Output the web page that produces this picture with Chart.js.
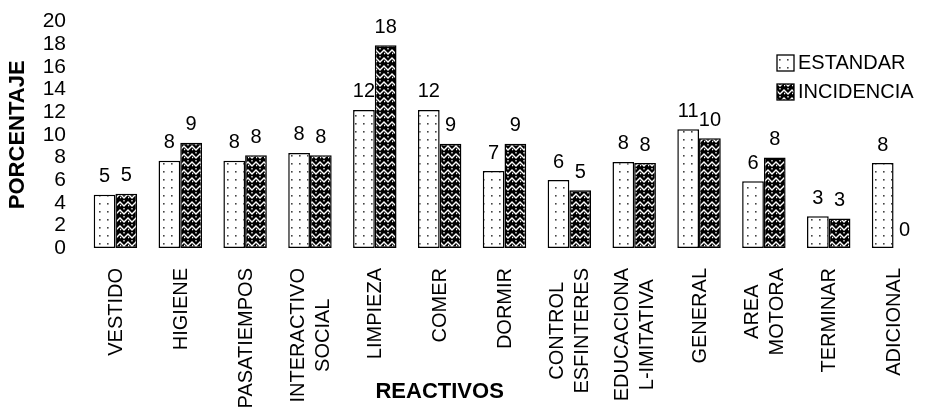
<!DOCTYPE html>
<html><head><meta charset="utf-8">
<script src="https://cdn.jsdelivr.net/npm/chart.js@4.4.1/dist/chart.umd.min.js"></script>
<style>html,body{margin:0;padding:0;background:#fff}</style>
</head><body>
<canvas id="c" width="926" height="409" style="display:block;width:926px;height:409px"></canvas>
<script>
const categories = [['VESTIDO'],['HIGIENE'],['PASATIEMPOS'],['INTERACTIVO','SOCIAL'],['LIMPIEZA'],['COMER'],['DORMIR'],['CONTROL','ESFINTERES'],['EDUCACIONA','L-IMITATIVA'],['GENERAL'],['AREA','MOTORA'],['TERMINAR'],['ADICIONAL']];
const estandar   = [4.7, 7.7, 7.7, 8.4, 12.2, 12.2, 6.8, 6.0, 7.6, 10.5, 5.9, 2.8, 7.5];
const incidencia = [4.8, 9.3, 8.2, 8.2, 17.9, 9.2, 9.2, 5.1, 7.5, 9.7, 8.0, 2.6, 0];
const seriesNames = ['ESTANDAR', 'INCIDENCIA'];
const yTicks = [0, 2, 4, 6, 8, 10, 12, 14, 16, 18, 20];
const yTitle = 'PORCENTAJE';
const xTitle = 'REACTIVOS';

function dotPattern() {
  const c = document.createElement('canvas'); c.width = 8; c.height = 8;
  const g = c.getContext('2d');
  g.fillStyle = '#fff'; g.fillRect(0, 0, 8, 8);
  g.fillStyle = '#444'; g.fillRect(3, 3, 1.6, 1.6);
  return g.createPattern(c, 'repeat');
}
function zigPattern() {
  const c = document.createElement('canvas'); c.width = 8; c.height = 8;
  const g = c.getContext('2d');
  g.fillStyle = '#000'; g.fillRect(0, 0, 8, 8);
  g.strokeStyle = '#fff'; g.lineWidth = 1.3;
  g.beginPath(); g.moveTo(-1, 1); g.lineTo(4, 6); g.lineTo(9, 1); g.stroke();
  g.beginPath(); g.moveTo(4, -1); g.lineTo(4, 1.5); g.stroke();
  g.beginPath(); g.moveTo(0, 5); g.lineTo(1, 6); g.stroke();
  return g.createPattern(c, 'repeat');
}
const pats = [dotPattern(), zigPattern()];

const custom = {
  id: 'custom',
  afterDatasetsDraw(chart) {
    const ctx = chart.ctx;
    ctx.save();
    ctx.fillStyle = '#000';
    ctx.font = '20px "Liberation Sans", Arial, sans-serif';
    ctx.textAlign = 'center'; ctx.textBaseline = 'middle';
    chart.data.datasets.forEach((ds, di) => {
      chart.getDatasetMeta(di).data.forEach((bar, i) => {
        ctx.fillText(String(Math.round(ds.data[i])), bar.x, bar.y - 18);
      });
    });
    ctx.restore();
  },
  afterDraw(chart) {
    const ctx = chart.ctx;
    const xs = chart.scales.x;
    ctx.save();
    ctx.fillStyle = '#000';
    ctx.font = '20px "Liberation Sans", Arial, sans-serif';
    ctx.textAlign = 'center'; ctx.textBaseline = 'middle';
    const top = 268, gap = 25;
    categories.forEach((lines, i) => {
      const cx = xs.getPixelForValue(i);
      const W = Math.max(...lines.map(l => ctx.measureText(l).width));
      const n = lines.length;
      lines.forEach((l, k) => {
        const lx = cx + (k - (n - 1) / 2) * gap;
        ctx.save();
        ctx.translate(lx, top + W / 2);
        ctx.rotate(-Math.PI / 2);
        ctx.fillText(l, 0, 1);
        ctx.restore();
      });
    });
    ctx.font = 'bold 22px "Liberation Sans", Arial, sans-serif';
    ctx.fillText(xTitle, xs.getPixelForValue(5), 392);
    ctx.font = '20px "Liberation Sans", Arial, sans-serif';
    ctx.textAlign = 'left';
    seriesNames.forEach((name, k) => {
      const by = 55 + k * 29;
      ctx.fillStyle = pats[k];
      ctx.fillRect(777, by, 17, 16);
      ctx.strokeStyle = '#000'; ctx.lineWidth = 1.3;
      ctx.strokeRect(777, by, 17, 16);
      ctx.fillStyle = '#000';
      ctx.fillText(name, 798, by + 8.5);
    });
    ctx.restore();
  }
};

new Chart(document.getElementById('c'), {
  type: 'bar',
  data: {
    labels: categories,
    datasets: [
      { label: seriesNames[0], data: estandar, backgroundColor: pats[0], borderColor: '#000', borderWidth: 1.5, borderSkipped: false },
      { label: seriesNames[1], data: incidencia, backgroundColor: pats[1], borderColor: '#000', borderWidth: 1.5, borderSkipped: false }
    ]
  },
  options: {
    responsive: false,
    animation: false,
    events: [],
    layout: { padding: { top: -6, right: -12, bottom: 153, left: 0 } },
    datasets: { bar: { barPercentage: 1.0, categoryPercentage: 0.67 } },
    plugins: { legend: { display: false }, tooltip: { enabled: false } },
    scales: {
      x: {
        grid: { display: false }, border: { display: false },
        ticks: { display: false }
      },
      y: {
        min: 0, max: 20,
        afterBuildTicks: (s) => { s.ticks = yTicks.map(v => ({ value: v })); },
        afterFit: (s) => { s.width = 83; },
        grid: { display: false }, border: { display: false },
        ticks: { color: '#000', padding: 9, autoSkip: false, font: { family: '"Liberation Sans", Arial, sans-serif', size: 21 } },
        title: { display: true, text: yTitle, color: '#000', padding: { top: 5, bottom: 0 }, font: { family: '"Liberation Sans", Arial, sans-serif', size: 22, weight: 'bold' } }
      }
    }
  },
  plugins: [custom]
});
</script>
</body></html>
